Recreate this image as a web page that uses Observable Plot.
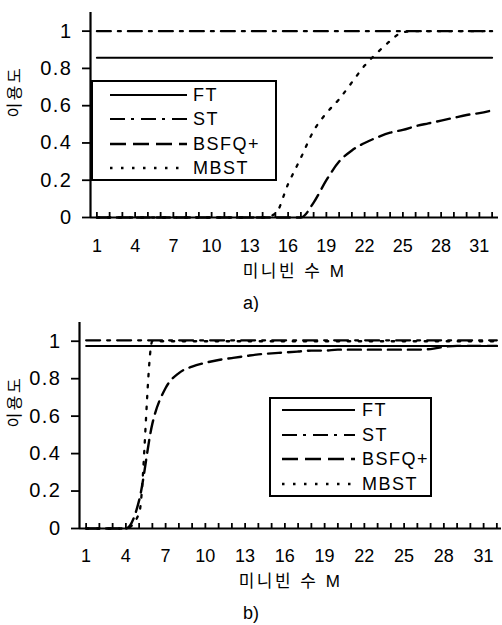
<!DOCTYPE html>
<html>
<head>
<meta charset="utf-8">
<script src="https://cdn.jsdelivr.net/npm/d3@7"></script>
<script src="https://cdn.jsdelivr.net/npm/@observablehq/plot@0.6"></script>
<style>
  html, body { margin: 0; padding: 0; background: white; }
  #root { position: relative; width: 502px; height: 625px; overflow: hidden; background: white;
          font-family: 'Liberation Sans', Arial, 'Noto Sans CJK KR', sans-serif; color: black; }
  .panel { position: absolute; left: 0; width: 502px; }
  .caption { position: absolute; left: 0; width: 502px; text-align: center; font-size: 18px; line-height: 20px; }
  .legend { position: absolute; box-sizing: border-box; border: 2px solid black; background: white; }
  .legend .row { position: absolute; display: flex; align-items: center; height: 24px; }
  .legend .row span { font-size: 18px; letter-spacing: 1.5px; line-height: 24px; }
  .legend svg { display: block; }
</style>
</head>
<body>
<div id="root"></div>
<script>
// ---------- data ----------
const M = [1,2,3,4,5,6,7,8,9,10,11,12,13,14,15,16,17,18,19,20,21,22,23,24,25,26,27,28,29,30,31,32];
const seriesNames = ["FT", "ST", "BSFQ+", "MBST"];
const xTickLabels = [1,4,7,10,13,16,19,22,25,28,31];
const yTickValues = [0,0.2,0.4,0.6,0.8,1];
const yTitle = "이용도";
const xTitle = "미니빈 수 M";
const captions = ["a)", "b)"];

// panel a)
const ftA   = [0.857,0.857,0.857,0.857,0.857,0.857,0.857,0.857,0.857,0.857,0.857,0.857,0.857,0.857,0.857,0.857,0.857,0.857,0.857,0.857,0.857,0.857,0.857,0.857,0.857,0.857,0.857,0.857,0.857,0.857,0.857,0.857];
const stA   = [1,1,1,1,1,1,1,1,1,1,1,1,1,1,1,1,1,1,1,1,1,1,1,1,1,1,1,1,1,1,1,1];
const bsfqA = [0,0,0,0,0,0,0,0,0,0,0,0,0,0,0,0,0,0.08,0.2,0.3,0.36,0.4,0.43,0.455,0.47,0.49,0.505,0.52,0.535,0.55,0.56,0.575];
const mbstA = [0,0,0,0,0,0,0,0,0,0,0,0,0,0,0.02,0.18,0.32,0.465,0.56,0.635,0.725,0.815,0.885,0.947,0.995,1,1,1,1,1,1,1];

// panel b)
const ftB   = [0.975,0.975,0.975,0.975,0.975,0.975,0.975,0.975,0.975,0.975,0.975,0.975,0.975,0.975,0.975,0.975,0.975,0.975,0.975,0.975,0.975,0.975,0.975,0.975,0.975,0.975,0.975,0.975,0.975,0.975,0.975,0.975];
const stB   = [1.005,1.005,1.005,1.005,1.005,1.005,1.005,1.005,1.005,1.005,1.005,1.005,1.005,1.005,1.005,1.005,1.005,1.005,1.005,1.005,1.005,1.005,1.005,1.005,1.005,1.005,1.005,1.005,1.005,1.005,1.005,1.005];
const bsfqB = [0,0,0,0,0.15,0.56,0.75,0.83,0.865,0.885,0.9,0.91,0.92,0.93,0.935,0.94,0.945,0.95,0.95,0.955,0.955,0.955,0.955,0.955,0.955,0.955,0.958,0.97,0.975,0.975,0.975,0.975];
const mbstB = [0,0,0,0,0.08,1,1,1,1,1,1,1,1,1,1,1,1,1,1,1,1,1,1,1,1,1,1,1,1,1,1,1];

// ---------- styles ----------
const fontFamily = "'Liberation Sans', Arial, 'Noto Sans CJK KR', sans-serif";
const lineStyles = {
  "FT":    {dash: null,        width: 2},
  "ST":    {dash: "14,7,3,7",  width: 2.2},
  "BSFQ+": {dash: "13,7",      width: 2.4},
  "MBST":  {dash: "2.5,8.5",   width: 2.3}
};
const legendDash = {"FT": null, "ST": "15,6,3,7", "BSFQ+": "16,7", "MBST": "2.5,8.5"};

const panels = [
  {values: [ftA, stA, bsfqA, mbstA], top: 0, height: 292, marginLeft: 90, marginRight: 4, marginTop: 12, marginBottom: 75,
   xDomain: [0.5, 32.5], tickPadding: 22, xTitleDy: 59, yTitleDx: -76, yTitleDy: 2.5, captionTop: 293,
   legend: {left: 91, top: 80, width: 186, height: 101, padTop: 1, rowH: 24.3, lineLeft: 17, lineW: 77, gap: 6}},
  {values: [ftB, stB, bsfqB, mbstB], top: 312, height: 290, marginLeft: 79, marginRight: 1, marginTop: 10, marginBottom: 74,
   xDomain: [0.5, 32.35], tickPadding: 21, xTitleDy: 58, yTitleDx: -65, yTitleDy: 2, captionTop: 603,
   legend: {left: 269, top: 85, width: 163, height: 100, padTop: -1, rowH: 24.5, lineLeft: 11, lineW: 73, gap: 7}}
];
const yDomain = [0, 1.1];

const root = document.getElementById("root");

panels.forEach((cfg, p) => {
  const rows = [];
  seriesNames.forEach((name, j) => cfg.values[j].forEach((v, i) => rows.push({series: name, M: M[i], v})));
  const innerH = cfg.height - cfg.marginTop - cfg.marginBottom;
  const lineMarks = seriesNames.map(name => Plot.line(rows.filter(r => r.series === name), {
    x: "M", y: "v", stroke: "black", strokeWidth: lineStyles[name].width,
    strokeDasharray: lineStyles[name].dash, curve: "monotone-x"
  }));
  const svg = Plot.plot({
    width: 502, height: cfg.height,
    marginLeft: cfg.marginLeft, marginRight: cfg.marginRight, marginTop: cfg.marginTop, marginBottom: cfg.marginBottom,
    x: {domain: cfg.xDomain, axis: null},
    y: {domain: yDomain, axis: null},
    style: {fontFamily, background: "white", color: "black", overflow: "visible"},
    marks: [
      ...lineMarks,
      Plot.ruleY([yDomain[0]], {strokeWidth: 2.2}),
      Plot.ruleX([cfg.xDomain[0]], {strokeWidth: 2.2}),
      Plot.ruleX(M, {x: d => d, insetTop: innerH - 5, stroke: "black", strokeWidth: 1.8}),
      Plot.axisY(yTickValues, {tickSize: 8, tickPadding: 10, tickFormat: d => String(d), fontSize: 20, strokeWidth: 1.8, label: null}),
      Plot.axisX(xTickLabels, {tickSize: 0, tickPadding: cfg.tickPadding, fontSize: 18, label: null}),
      Plot.text([yTitle], {text: d => d, frameAnchor: "left", rotate: -90, dx: cfg.yTitleDx, dy: cfg.yTitleDy, fontSize: 16}),
      Plot.text([xTitle], {text: d => d, frameAnchor: "bottom", dy: cfg.xTitleDy, fontSize: 17})
    ]
  });
  d3.select(svg).selectAll('g[aria-label="text"] text').style("letter-spacing", "2.5px");
  d3.select(svg).selectAll('g[aria-label="y-axis tick label"] text').style("letter-spacing", "1.5px");

  const panel = document.createElement("div");
  panel.className = "panel";
  panel.style.top = cfg.top + "px";
  panel.style.height = cfg.height + "px";
  panel.appendChild(svg);

  // legend
  const L = cfg.legend;
  const lg = document.createElement("div");
  lg.className = "legend";
  Object.assign(lg.style, {left: L.left + "px", top: L.top + "px", width: L.width + "px", height: L.height + "px"});
  seriesNames.forEach((name, j) => {
    const row = document.createElement("div");
    row.className = "row";
    row.style.top = (L.padTop + j * L.rowH) + "px";
    row.style.left = L.lineLeft + "px";
    const ns = "http://www.w3.org/2000/svg";
    const s = document.createElementNS(ns, "svg");
    s.setAttribute("width", L.lineW); s.setAttribute("height", 6);
    const ln = document.createElementNS(ns, "line");
    ln.setAttribute("x1", 0); ln.setAttribute("x2", L.lineW); ln.setAttribute("y1", 3); ln.setAttribute("y2", 3);
    ln.setAttribute("stroke", "black"); ln.setAttribute("stroke-width", lineStyles[name].width);
    if (legendDash[name]) ln.setAttribute("stroke-dasharray", legendDash[name]);
    s.appendChild(ln);
    const t = document.createElement("span");
    t.textContent = name;
    t.style.marginLeft = L.gap + "px";
    row.appendChild(s); row.appendChild(t);
    lg.appendChild(row);
  });
  panel.appendChild(lg);
  root.appendChild(panel);

  const cap = document.createElement("div");
  cap.className = "caption";
  cap.style.top = cfg.captionTop + "px";
  cap.textContent = captions[p];
  root.appendChild(cap);
});
</script>
</body>
</html>
